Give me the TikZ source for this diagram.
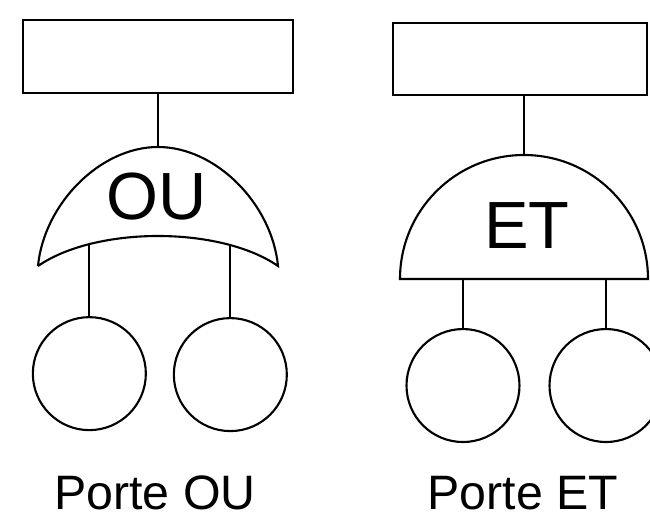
\documentclass[tikz,border=0pt]{standalone}
\usepackage{fontspec}
\setmainfont{Liberation Sans}
\usetikzlibrary{positioning}
\begin{document}
\begin{tikzpicture}
	[x=0.02cm, y=0.02cm, line width=1.2pt,
	every node/.style={inner sep=0pt},
	event/.style={draw, fill=white},
	basic/.style={draw, circle, minimum size=2.26cm},
	gatename/.style={font=\fontsize{38}{38}\selectfont},
	caption/.style={font=\fontsize{27.5}{30}\selectfont, anchor=base}]
	\clip (0,0) rectangle (650,518);
	% porte OU
	\node[event, minimum width=5.4cm, minimum height=1.46cm] (topOU) at (158,461.5) {};
	\coordinate (gOU) at (158,371);
	\draw (38,252) .. controls (44,314) and (100,371) .. (gOU)
		.. controls (216,371) and (272,314) .. (278,252)
		.. controls (220,292) and (96,292) .. coordinate[pos=0.225] (inOU2) coordinate[pos=0.76] (inOU1) (38,252);
	\node[basic, below=1.44cm of inOU1] (evOU1) {};
	\node[basic, below=1.44cm of inOU2] (evOU2) {};
	\draw (topOU) -- (gOU);
	\draw (inOU1) -- (evOU1);
	\draw (inOU2) -- (evOU2);
	\node[gatename] (lblOU) at (157,321) {OU};
	\node[caption] (capOU) at (155,9) {Porte OU};
	% porte ET
	\node[event, minimum width=5.08cm, minimum height=1.44cm] (topET) at (520,459) {};
	\coordinate (gET) at (524,363);
	\draw (400,239) arc[start angle=180, end angle=0, radius=124] -- cycle;
	\coordinate (inET1) at (463,239);
	\coordinate (inET2) at (606,239);
	\node[basic, below=0.98cm of inET1] (evET1) {};
	\node[basic, below=0.98cm of inET2] (evET2) {};
	\draw (topET.south -| gET) -- (gET);
	\draw (inET1) -- (evET1);
	\draw (inET2) -- (evET2);
	\node[gatename] (lblET) at (527,292) {ET};
	\node[caption] (capET) at (523,9) {Porte ET};
\end{tikzpicture}
\end{document}
